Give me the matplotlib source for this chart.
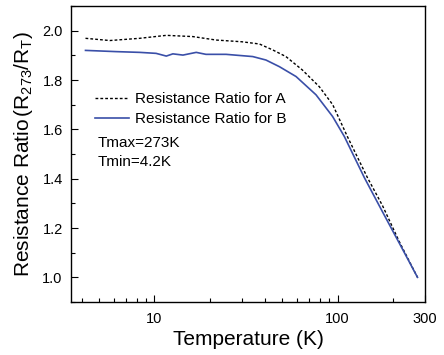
import matplotlib
matplotlib.use('Agg')
import matplotlib.pyplot as plt
from matplotlib.ticker import FixedLocator, MultipleLocator, LogLocator, NullFormatter

plt.rcParams['font.family'] = ['Liberation Sans', 'DejaVu Sans']
plt.rcParams['mathtext.fontset'] = 'custom'
plt.rcParams['mathtext.rm'] = 'Liberation Sans'
plt.rcParams['mathtext.it'] = 'Liberation Sans'

# sample A (dashed)
temp_a = [4.2, 5.7, 8.3, 11.6, 16.2, 21.7, 30.0, 37.4, 44.2, 52.2, 64.1, 79.4, 94.0, 113.0, 145.5, 176.0, 217.0, 273.0]
ratio_a = [1.969, 1.960, 1.969, 1.981, 1.976, 1.962, 1.955, 1.946, 1.922, 1.895, 1.841, 1.773, 1.700, 1.571, 1.404, 1.290, 1.145, 1.0]

# sample B (solid)
temp_b = [4.2, 6.2, 8.3, 10.2, 11.6, 12.6, 14.3, 16.9, 19.1, 24.6, 34.4, 40.6, 48.1, 59.3, 76.2, 93.9, 108.8, 140.0, 176.0, 217.0, 273.0]
ratio_b = [1.920, 1.915, 1.912, 1.908, 1.897, 1.906, 1.901, 1.912, 1.904, 1.904, 1.895, 1.881, 1.854, 1.814, 1.740, 1.652, 1.571, 1.404, 1.265, 1.139, 1.0]

x_ticks = [10, 100, 300]
y_ticks = [1.0, 1.2, 1.4, 1.6, 1.8, 2.0]

fig = plt.figure(figsize=(4.44, 3.55), dpi=100)
ax = fig.add_axes([71/444, 1 - 302/355, (425-71)/444, (302-6)/355])

ax.plot(temp_a, ratio_a, color='black', linestyle=(0, (2, 1.5)), linewidth=1.0, label='Resistance Ratio for A')
ax.plot(temp_b, ratio_b, color='#3a4fa8', linestyle='-', linewidth=1.2, label='Resistance Ratio for B')

ax.set_xscale('log')
ax.set_xlim(3.5, 300)
ax.set_ylim(0.9, 2.1)
ax.xaxis.set_major_locator(FixedLocator(x_ticks))
ax.set_xticklabels([str(t) for t in x_ticks])
ax.xaxis.set_minor_locator(LogLocator(base=10, subs=range(2, 10)))
ax.xaxis.set_minor_formatter(NullFormatter())
ax.set_yticks(y_ticks)
ax.set_yticklabels(['%.1f' % t for t in y_ticks])
ax.yaxis.set_minor_locator(MultipleLocator(0.1))

ax.tick_params(which='both', direction='in', top=False, right=False, labelsize=10.5)
ax.tick_params(which='major', length=5, width=0.8)
ax.tick_params(which='minor', length=3, width=0.8)
ax.tick_params(axis='x', which='major', pad=7)
ax.tick_params(axis='y', which='major', pad=6)
for s in ax.spines.values():
    s.set_linewidth(1.0)

ax.set_xlabel('Temperature (K)', fontsize=15, labelpad=3)
ax.set_ylabel('Resistance Ratio$\\,$(R$_{273}$/R$_\\mathrm{T}$)', fontsize=15, labelpad=5)

ax.legend(loc='upper left', bbox_to_anchor=(95/444, 1 - 92/355), bbox_transform=fig.transFigure,
          frameon=False, fontsize=11, borderpad=0, borderaxespad=0,
          handlelength=2.2, handletextpad=0.4, labelspacing=0.4)
ax.annotate('Tmax=273K', xy=(98/444, 1 - 143/355), xycoords='figure fraction', fontsize=11, va='center')
ax.annotate('Tmin=4.2K', xy=(98/444, 1 - 162/355), xycoords='figure fraction', fontsize=11, va='center')

fig.savefig('out.png', dpi=100)
